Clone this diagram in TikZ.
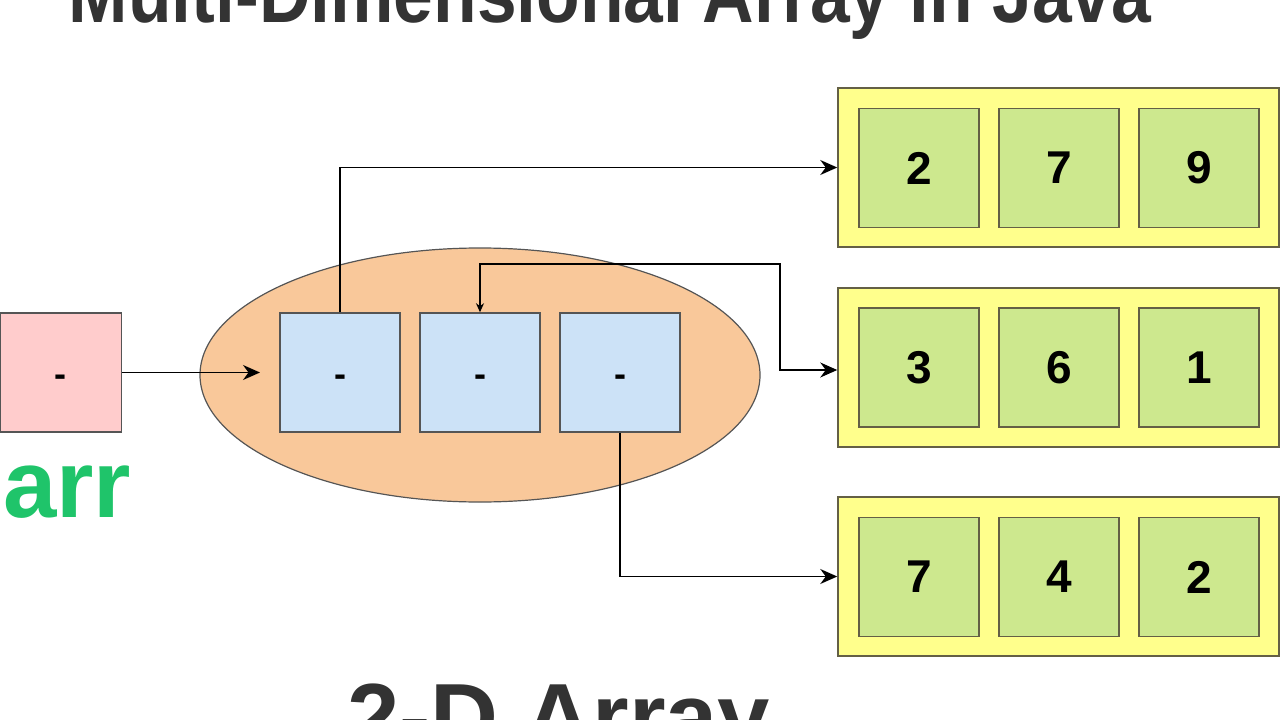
\documentclass[tikz,border=0pt]{standalone}
\usepackage{fontspec}
\setmainfont{Liberation Sans}
\usetikzlibrary{shapes.geometric,arrows.meta}
\definecolor{pinkfill}{HTML}{FFCCCC}
\definecolor{peach}{HTML}{F9C89A}
\definecolor{bluefill}{HTML}{CCE2F7}
\definecolor{yellowfill}{HTML}{FFFF8C}
\definecolor{greenfill}{HTML}{CDE88E}
\definecolor{greentext}{HTML}{1FC46A}
\definecolor{edge}{HTML}{555555}
\definecolor{titlegray}{HTML}{333333}
\newcommand{\lowdash}{\raisebox{-13.5pt}[0pt][0pt]{-}}
\tikzset{
  cell/.style={draw=edge, line width=1.5pt, minimum width=120pt, minimum height=119pt, inner sep=0pt,
    font=\fontsize{36}{40}\selectfont\bfseries},
  ptrcell/.style={cell, fill=bluefill},
  valcell/.style={cell, fill=greenfill, draw=black!70!yellow, font=\fontsize{46}{50}\selectfont\bfseries},
  rowbox/.style={draw=black!70!yellow, line width=1.5pt, fill=yellowfill, minimum width=441pt, minimum height=159pt, inner sep=0pt},
  conn/.style={draw=black, line width=1.6pt, -{Stealth[length=17pt,width=15pt]}},
}
\begin{document}
\begin{tikzpicture}[x=1pt,y=-1pt]
\useasboundingbox (0,0) rectangle (1280,720);
\clip (0,0) rectangle (1280,720);
% title and footer
\node[anchor=base, text=titlegray, font=\fontsize{82}{90}\selectfont\bfseries, xscale=0.87] (title) at (610,23) {Multi-Dimensional Array in Java};
\node[anchor=base west, text=titlegray, font=\fontsize{94}{100}\selectfont\bfseries, inner sep=0pt] (footer) at (347,749) {2-D Array};
% ellipse
\node[ellipse, draw=edge, line width=1.2pt, fill=peach, minimum width=560pt, minimum height=254pt, inner sep=0pt] (ell) at (480,375) {};
% pointer array
\node[cell, fill=pinkfill, minimum width=121pt] (arr) at (60.75,372.5) {\lowdash};
\node[anchor=base west, text=greentext, font=\fontsize{96}{100}\selectfont\bfseries, inner sep=0pt] (arrlabel) at (3,517) {arr};
\node[ptrcell] (b1) at (340,372.5) {\lowdash};
\node[ptrcell] (b2) at (480,372.5) {\lowdash};
\node[ptrcell] (b3) at (620,372.5) {\lowdash};
% rows
\node[rowbox] (r1) at (1058.5,167.5) {};
\node[rowbox] (r2) at (1058.5,367.5) {};
\node[rowbox] (r3) at (1058.5,576.5) {};
\node[valcell] (c11) at (919,168) {2};
\node[valcell] (c12) at (1059,168) {7};
\node[valcell] (c13) at (1199,168) {9};
\node[valcell] (c21) at (919,367.5) {3};
\node[valcell] (c22) at (1059,367.5) {6};
\node[valcell] (c23) at (1199,367.5) {1};
\node[valcell] (c31) at (919,577) {7};
\node[valcell] (c32) at (1059,577) {4};
\node[valcell] (c33) at (1199,577) {2};
% connectors
\coordinate (arrin) at (260,372.5);
\draw[conn] (arr.east) -- (arrin);
\draw[conn] (b1.north) |- (r1.west);
\coordinate (k1) at (480,264);
\coordinate (k2) at (780,264);
\coordinate (k3) at (780,370);
\draw[conn, {Stealth[length=9pt,width=8pt]}-{Stealth[length=17pt,width=15pt]}] (b2.north) -- (k1) -- (k2) -- (k3) -- (r2.west |- k3);
\draw[conn] (b3.south) |- (r3.west);
\end{tikzpicture}
\end{document}
